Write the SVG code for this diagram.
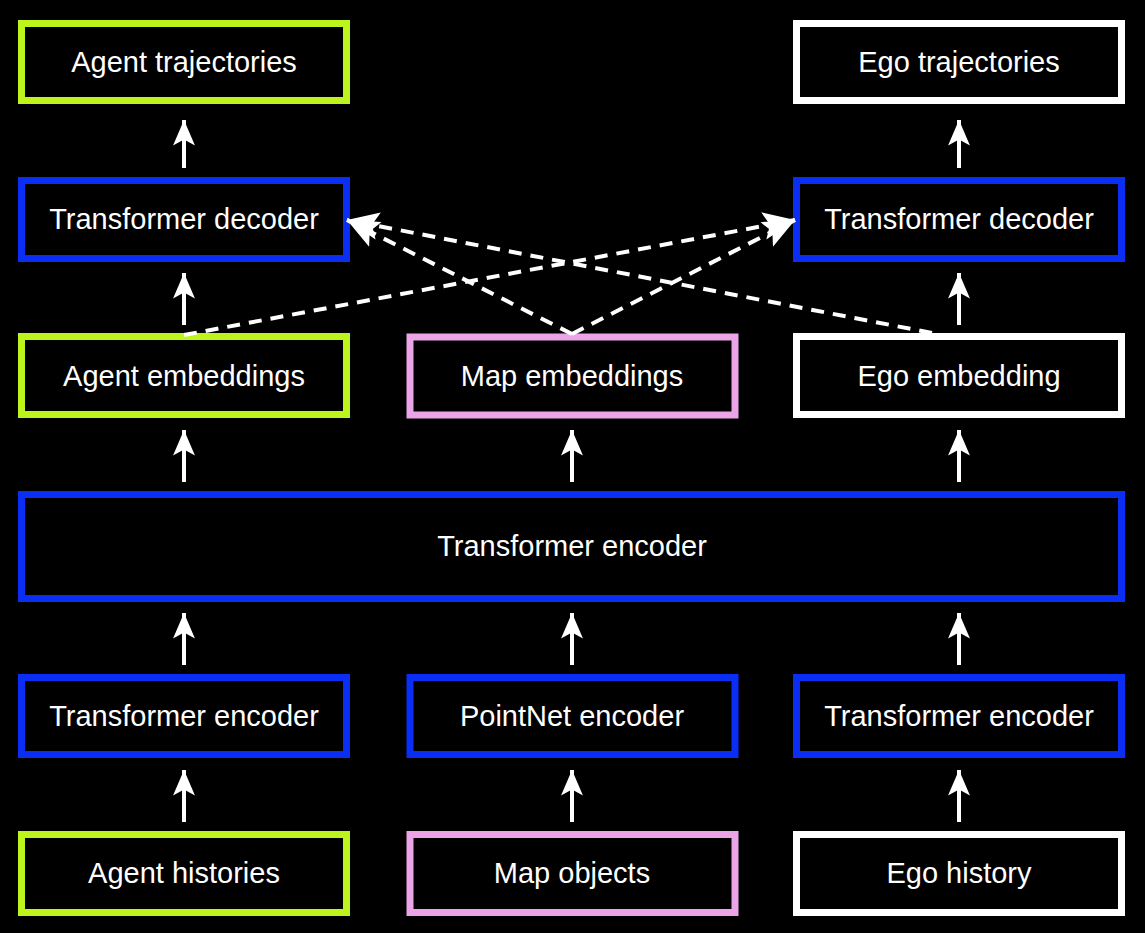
<svg xmlns="http://www.w3.org/2000/svg" width="1145" height="933" viewBox="0 0 1145 933">
<defs>
<style>
.box{fill:#000;stroke-width:7}
.lime{stroke:#bcf41c}
.blue{stroke:#0b2ef4}
.pink{stroke:#eba4e8}
.white{stroke:#ffffff}
.lbl{font-family:"Liberation Sans",Arial,sans-serif;font-size:29px;fill:#ffffff;text-anchor:middle}
.solid{stroke:#fff;stroke-width:4;fill:none;marker-end:url(#ah)}
.dash{stroke:#fff;stroke-width:4;fill:none;stroke-dasharray:13 9;marker-end:url(#ahd)}
</style>
<marker id="ah" markerUnits="userSpaceOnUse" markerWidth="30" markerHeight="30" viewBox="-2 -12 26 24" refX="22" refY="0" orient="auto">
<path d="M22,0 L0,-9.5 L5,0 L0,9.5 Z" fill="#fff"/>
</marker>
<marker id="ahd" markerUnits="userSpaceOnUse" markerWidth="36" markerHeight="36" viewBox="-2 -15 34 30" refX="30" refY="0" orient="auto">
<path d="M30,0 L0,-13 L6,0 L0,13 Z" fill="#fff"/>
</marker>
</defs>
<rect width="1145" height="933" fill="#000"/>

<g id="agent-trajectories"><rect class="box lime" x="21.5" y="23.5" width="325" height="77"/><text class="lbl" x="184" y="72">Agent trajectories</text></g>
<g id="ego-trajectories"><rect class="box white" x="796.5" y="23.5" width="325" height="77"/><text class="lbl" x="959" y="72">Ego trajectories</text></g>

<g id="agent-decoder"><rect class="box blue" x="21.5" y="180.5" width="325" height="78"/><text class="lbl" x="184" y="229">Transformer decoder</text></g>
<g id="ego-decoder"><rect class="box blue" x="796.5" y="180.5" width="325" height="78"/><text class="lbl" x="959" y="229">Transformer decoder</text></g>

<g id="agent-embeddings"><rect class="box lime" x="21.5" y="336.5" width="325" height="78"/><text class="lbl" x="184" y="386">Agent embeddings</text></g>
<g id="map-embeddings"><rect class="box pink" x="410" y="337" width="325" height="78"/><text class="lbl" x="572" y="386">Map embeddings</text></g>
<g id="ego-embedding"><rect class="box white" x="796.5" y="336.5" width="325" height="78"/><text class="lbl" x="959" y="386">Ego embedding</text></g>

<g id="scene-encoder"><rect class="box blue" x="21.5" y="494.5" width="1100" height="104"/><text class="lbl" x="572" y="556">Transformer encoder</text></g>

<g id="agent-encoder"><rect class="box blue" x="21.5" y="677.5" width="325" height="77"/><text class="lbl" x="184" y="726">Transformer encoder</text></g>
<g id="pointnet-encoder"><rect class="box blue" x="410" y="677.5" width="325" height="77"/><text class="lbl" x="572" y="726">PointNet encoder</text></g>
<g id="ego-encoder"><rect class="box blue" x="796.5" y="677.5" width="325" height="77"/><text class="lbl" x="959" y="726">Transformer encoder</text></g>

<g id="agent-histories"><rect class="box lime" x="21.5" y="834.5" width="325" height="78"/><text class="lbl" x="184" y="883">Agent histories</text></g>
<g id="map-objects"><rect class="box pink" x="410" y="834.5" width="325" height="78"/><text class="lbl" x="572" y="883">Map objects</text></g>
<g id="ego-history"><rect class="box white" x="796.5" y="834.5" width="325" height="78"/><text class="lbl" x="959" y="883">Ego history</text></g>

<g id="connectors">
<line class="solid" x1="184" y1="168" x2="184" y2="120"/>
<line class="solid" x1="959" y1="168" x2="959" y2="120"/>
<line class="solid" x1="184" y1="325" x2="184" y2="273"/>
<line class="solid" x1="959" y1="325" x2="959" y2="273"/>
<line class="solid" x1="184" y1="482" x2="184" y2="430"/>
<line class="solid" x1="572" y1="482" x2="572" y2="430"/>
<line class="solid" x1="959" y1="482" x2="959" y2="430"/>
<line class="solid" x1="184" y1="665" x2="184" y2="613"/>
<line class="solid" x1="572" y1="665" x2="572" y2="613"/>
<line class="solid" x1="959" y1="665" x2="959" y2="613"/>
<line class="solid" x1="184" y1="822" x2="184" y2="770"/>
<line class="solid" x1="572" y1="822" x2="572" y2="770"/>
<line class="solid" x1="959" y1="822" x2="959" y2="770"/>
<line class="dash" x1="184" y1="335" x2="795" y2="220"/>
<line class="dash" x1="932" y1="333" x2="347" y2="220"/>
<line class="dash" x1="572" y1="334" x2="347" y2="220"/>
<line class="dash" x1="572" y1="334" x2="795" y2="220"/>
</g>
</svg>
